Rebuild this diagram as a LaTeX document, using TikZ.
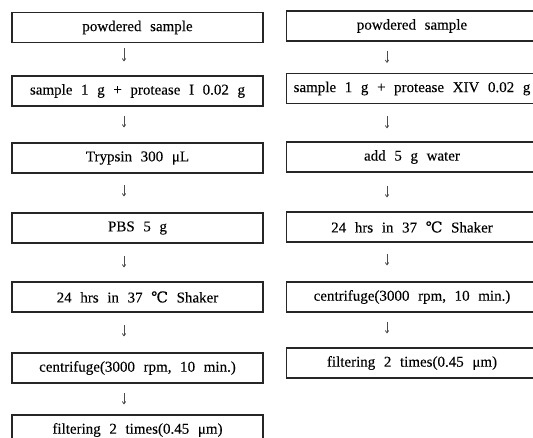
\documentclass[tikz,border=0pt]{standalone}
\usepackage{fontspec}
\setmainfont[WordSpace=2.3, FakeBold=0.15]{Liberation Serif}
\newfontfamily\degfont[FakeBold=0.15]{DejaVu Serif}
\usetikzlibrary{positioning, arrows.meta}

\begin{document}
\begin{tikzpicture}[x=1pt, y=-1pt,
    stepbox/.style={rectangle, draw=black!85, line width=1.5pt, minimum width=251pt,
                    minimum height=30pt, inner sep=0pt, font=\fontsize{15}{18}\selectfont},
    flow/.style={-{To[length=3pt,width=4pt]}, line width=0.8pt, black!70}
]
\clip (0,0) rectangle (533,437);
% left column
\node[stepbox] (L1) at (137.5,27.5) {powdered sample};
\node[stepbox] (L2) at (137.5,91)   {sample 1 g + protease I 0.02 g};
\node[stepbox] (L3) at (137.5,158)  {Trypsin 300 μL};
\node[stepbox] (L4) at (137.5,228)  {PBS 5 g};
\node[stepbox] (L5) at (137.5,297)  {24 hrs in 37 {\degfont ℃} Shaker};
\node[stepbox] (L6) at (137.5,368)  {centrifuge(3000 rpm, 10 min.)};
\node[stepbox] (L7) at (137.5,430)  {filtering 2 times(0.45 μm)};
\draw[flow, shorten <=5pt,  shorten >=14pt] ([xshift=-13.5pt]L1.south) -- ([xshift=-13.5pt]L2.north);
\draw[flow, shorten <=9pt,  shorten >=15pt] ([xshift=-13.5pt]L2.south) -- ([xshift=-13.5pt]L3.north);
\draw[flow, shorten <=11pt, shorten >=16pt] ([xshift=-13.5pt]L3.south) -- ([xshift=-13.5pt]L4.north);
\draw[flow, shorten <=12pt, shorten >=14pt] ([xshift=-13.5pt]L4.south) -- ([xshift=-13.5pt]L5.north);
\draw[flow, shorten <=12pt, shorten >=16pt] ([xshift=-13.5pt]L5.south) -- ([xshift=-13.5pt]L6.north);
\draw[flow, shorten <=9pt,  shorten >=10pt] ([xshift=-13.5pt]L6.south) -- ([xshift=-13.5pt]L7.north);
% right column
\node[stepbox] (R1) at (412,26)    {powdered sample};
\node[stepbox] (R2) at (412,88.5)  {sample 1 g + protease XIV 0.02 g};
\node[stepbox] (R3) at (412,157)   {add 5 g water};
\node[stepbox] (R4) at (412,227)   {24 hrs in 37 {\degfont ℃} Shaker};
\node[stepbox] (R5) at (412,297)   {centrifuge(3000 rpm, 10 min.)};
\node[stepbox] (R6) at (412,363)   {filtering 2 times(0.45 μm)};
\draw[flow, shorten <=9pt,  shorten >=10pt] ([xshift=-25pt]R1.south) -- ([xshift=-25pt]R2.north);
\draw[flow, shorten <=12pt, shorten >=13pt] ([xshift=-25pt]R2.south) -- ([xshift=-25pt]R3.north);
\draw[flow, shorten <=13pt, shorten >=14pt] ([xshift=-25pt]R3.south) -- ([xshift=-25pt]R4.north);
\draw[flow, shorten <=11pt, shorten >=16pt] ([xshift=-25pt]R4.south) -- ([xshift=-25pt]R5.north);
\draw[flow, shorten <=9pt,  shorten >=14pt] ([xshift=-25pt]R5.south) -- ([xshift=-25pt]R6.north);
\end{tikzpicture}
\end{document}
